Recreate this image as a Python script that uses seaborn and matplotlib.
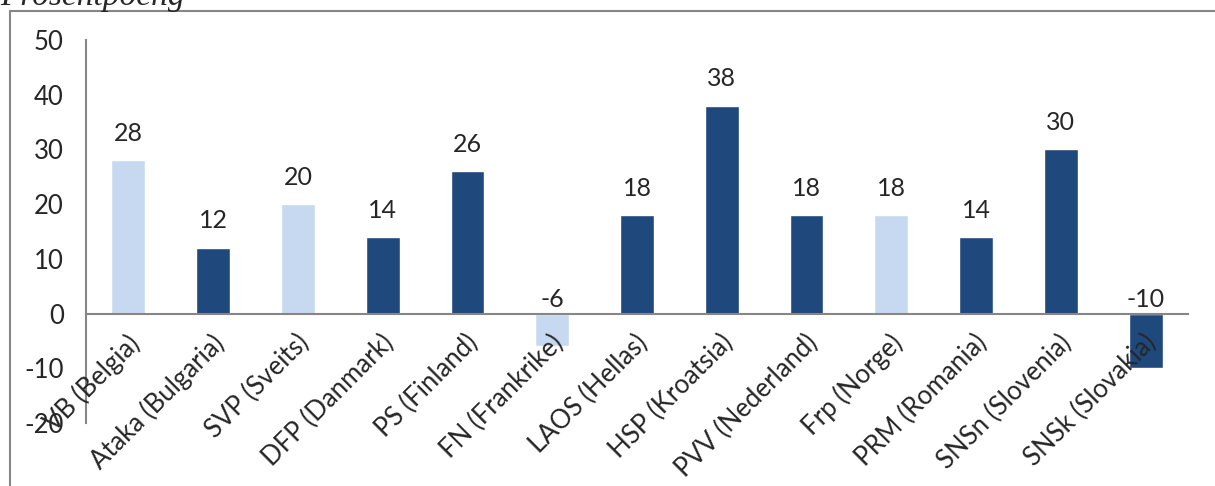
import numpy as np
import pandas as pd
import matplotlib
matplotlib.use("Agg")
import matplotlib.pyplot as plt
import matplotlib.transforms as mtransforms
from matplotlib.lines import Line2D
import seaborn as sns

# Data
parties = ["VB (Belgia)", "Ataka (Bulgaria)", "SVP (Sveits)", "DFP (Danmark)",
           "PS (Finland)", "FN (Frankrike)", "LAOS (Hellas)", "HSP (Kroatsia)",
           "PVV (Nederland)", "Frp (Norge)", "PRM (Romania)", "SNSn (Slovenia)",
           "SNSk (Slovakia)"]
values = [28, 12, 20, 14, 26, -6, 18, 38, 18, 18, 14, 30, -10]
highlight = [True, False, True, False, False, True, False, False, False, True, False, False, False]

LIGHT = "#c6d9f1"
DARK = "#1f497d"
GRAY = "#868686"

sns.set_style("white")
plt.rcParams['font.family'] = ['Lato', 'DejaVu Sans']
plt.rcParams['axes.unicode_minus'] = False

df = pd.DataFrame({"Party": parties, "Value": values})
palette = {p: (LIGHT if h else DARK) for p, h in zip(parties, highlight)}

fig = plt.figure(figsize=(12.15, 4.86), dpi=100)
ax = fig.add_axes([86 / 1215, 1 - 423 / 486, (1188 - 86) / 1215, (423 - 40) / 486])

sns.barplot(data=df, x="Party", y="Value", hue="Party", palette=palette,
            width=0.4, legend=False, ax=ax, saturation=1)
ax.set_axisbelow(False)  # labels sit on top of the bars, as in the original

ax.set_ylim(-20, 50)
ax.set_xlim(-0.5, len(parties) - 0.5)
ax.set_yticks(np.arange(-20, 51, 10))
ax.set_xlabel("")
ax.set_ylabel("")

# spines
for s in ["top", "right"]:
    ax.spines[s].set_visible(False)
ax.spines["bottom"].set_position(("data", 0))
for s in ["bottom", "left"]:
    ax.spines[s].set_color(GRAY)
    ax.spines[s].set_linewidth(1.5)

# category labels centered, tick marks at boundaries
ax.set_xticks(np.arange(len(parties)))
ax.set_xticklabels(parties, rotation=45, ha="right", va="top", rotation_mode="anchor")
ax.set_xticks(np.arange(len(parties) + 1) - 0.5, minor=True)
ax.tick_params(axis="x", which="major", length=0, pad=12, labelsize=18.5)
ax.tick_params(axis="x", which="minor", length=5, width=1.5, color=GRAY, direction="out")
ax.tick_params(axis="y", length=5, width=1.5, color=GRAY, direction="out", labelsize=18.5, pad=11)
shift = mtransforms.ScaledTranslation(-2 / 100, 0, fig.dpi_scale_trans)
for lbl in ax.get_xticklabels():
    lbl.set_transform(lbl.get_transform() + shift)

# value labels
for i, v in enumerate(values):
    off = 14 if v > 0 else 5
    ax.annotate(f"{v}", (i, max(v, 0)), xytext=(0, off), textcoords="offset points",
                ha="center", va="baseline", fontsize=18)

# outer frame and title
fig.add_artist(Line2D([10 / 1215, 10 / 1215], [0, 1 - 11 / 486], color=GRAY, lw=1.5))
fig.add_artist(Line2D([10 / 1215, 1], [1 - 11 / 486, 1 - 11 / 486], color=GRAY, lw=1.5))
fig.text(0, 1 - 5 / 486, "Prosentpoeng", fontsize=24, style="italic",
         family=["Liberation Serif", "DejaVu Serif"], va="baseline", ha="left")

fig.savefig("out.png", dpi=100)
